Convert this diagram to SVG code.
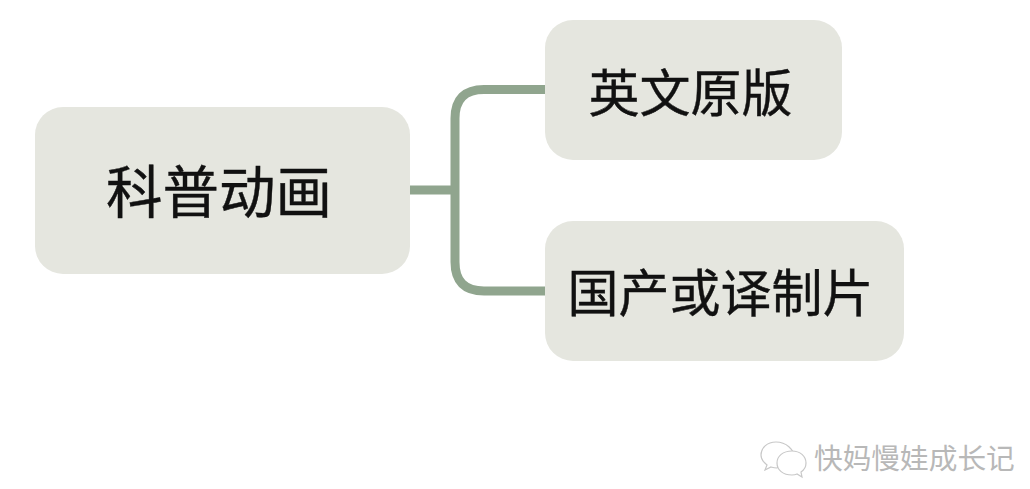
<svg xmlns="http://www.w3.org/2000/svg" width="1030" height="489" viewBox="0 0 1030 489">
<style>
.n{fill:#e5e6df}
.t{font-family:"Noto Sans CJK SC","Liberation Sans",sans-serif;fill:#111;text-anchor:middle;stroke:#111;stroke-width:.4}
.c{fill:none;stroke:#90a58e;stroke-width:9}
.w{font-family:"Noto Sans CJK SC","Liberation Sans",sans-serif;fill:#b8b8b8;font-size:28.7px}
.b{fill:#fff;stroke:#c8c8c8;stroke-width:1.2}
</style>
<rect width="1030" height="489" fill="#fff"/>
<g id="connectors">
<path class="c" d="M410 190H455"/>
<path class="c" d="M545 89.500H484Q455 89.500 455 118.500V262Q455 291 484 291H545"/>
</g>
<g id="root"><rect class="n" x="35" y="107" width="375" height="167" rx="28"/><text class="t" x="219" y="213" font-size="56.500">科普动画</text></g>
<g id="a"><rect class="n" x="545" y="20" width="297" height="140" rx="28"/><text class="t" x="690.500" y="112" font-size="51">英文原版</text></g>
<g id="b"><rect class="n" x="545" y="221" width="359" height="140" rx="28"/><text class="t" x="720.500" y="312" font-size="51">国产或译制片</text></g>
<g id="watermark">
<path class="b" d="M776 442c-9 0-15 6-15 13 0 4 2 7 6 10l-2 5 6-3c2 .6 4 1 6 1 5-7 12-10 18-9-1-10-9-17-19-17z"/>
<path class="b" d="M792 451c-9 0-15 5-15 12s6 12 15 12c2 0 3 0 5-1l5 3-1-5c3-2 5-5 5-9 0-7-6-12-14-12z"/>
<text class="w" x="814" y="469">快妈慢娃成长记</text>
</g>
</svg>
